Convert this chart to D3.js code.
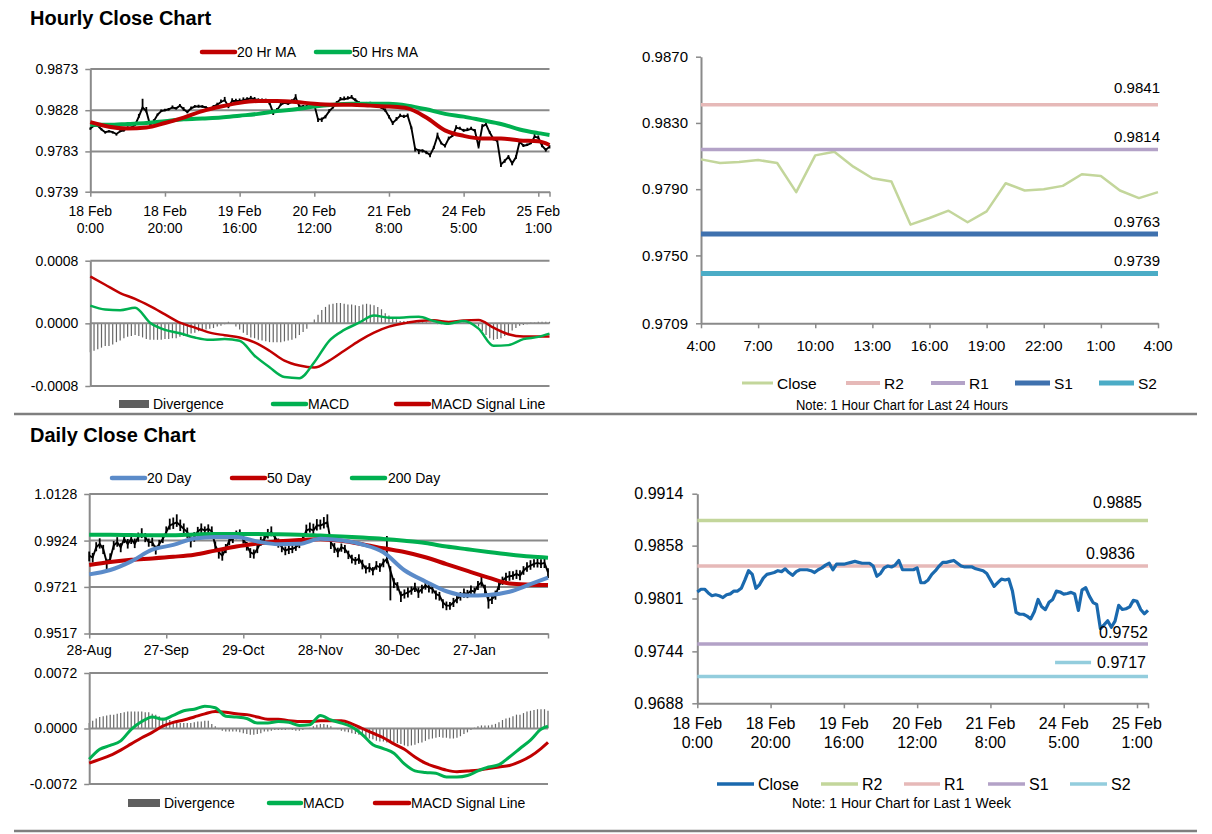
<!DOCTYPE html>
<html lang="en">
<head>
<meta charset="UTF-8">
<title>Hourly and Daily Close Charts</title>
<script src="https://d3js.org/d3.v7.min.js"></script>
<style>
  body { margin: 0; background: #fff; }
  text { font-family: "Liberation Sans", Arial, sans-serif; fill: #000; }
</style>
</head>
<body>
<svg id="chart" width="1212" height="834"></svg>
<script>
// ---------- Hourly data: 18 Feb 0:00 to 25 Feb 4:00, one point per trading hour ----------
const hourlyClose = [
  0.9808, 0.9811, 0.9811, 0.9807, 0.9804, 0.9805, 0.9804, 0.9802, 0.9805, 0.9806,
  0.9809, 0.9809, 0.9812, 0.9821, 0.9831, 0.9827, 0.9812, 0.9816, 0.9823, 0.9827,
  0.9828, 0.9829, 0.9831, 0.9830, 0.9833, 0.9829, 0.9826, 0.9830, 0.9832, 0.9832,
  0.9832, 0.9831, 0.9829, 0.9832, 0.9834, 0.9837, 0.9839, 0.9832, 0.9838, 0.9838,
  0.9838, 0.9839, 0.9840, 0.9841, 0.9840, 0.9839, 0.9839, 0.9839, 0.9836, 0.9825,
  0.9828, 0.9834, 0.9836, 0.9835, 0.9837, 0.9842, 0.9832, 0.9832, 0.9832, 0.9832,
  0.9834, 0.9818, 0.9818, 0.9821, 0.9827, 0.9831, 0.9836, 0.9840, 0.9840, 0.9841,
  0.9842, 0.9839, 0.9836, 0.9835, 0.9835, 0.9835, 0.9833, 0.9832, 0.9831, 0.9828,
  0.9821, 0.9814, 0.9818, 0.9822, 0.9821, 0.9822, 0.9809, 0.9786, 0.9784, 0.9784,
  0.9782, 0.9779, 0.9787, 0.9800, 0.9792, 0.9789, 0.9797, 0.9800, 0.9809,
  0.98080, 0.98058, 0.98064, 0.98076, 0.98058, 0.97882, 0.98104, 0.98126, 0.98036, 0.97966,
  0.97946, 0.97686, 0.97726, 0.97770, 0.97700, 0.97766, 0.97936, 0.97892, 0.97900, 0.97920,
  0.97990, 0.97980, 0.97892, 0.97846, 0.97882
];
// high above close and low below close, in 0.00001
const hourlyUp = [
  10, 12, 8, 14, 10, 12, 8, 10, 12, 9,
  14, 10, 18, 30, 95, 45, 20, 22, 15, 18,
  16, 14, 22, 15, 18, 24, 14, 20, 16, 20,
  15, 14, 20, 16, 22, 26, 35, 22, 30, 26,
  28, 30, 22, 26, 24, 20, 18, 16, 22, 25,
  24, 18, 20, 16, 30, 35, 22, 18, 16, 20,
  26, 14, 20, 18, 22, 24, 20, 24, 30, 22,
  26, 20, 18, 16, 20, 22, 18, 16, 14, 20,
  18, 20, 25, 22, 20, 24, 14, 12, 14, 12,
  16, 18, 20, 35, 16, 18, 22, 20, 26, 20,
  18, 24, 22, 16, 28, 24, 20, 18, 16, 20,
  14, 18, 20, 16, 22, 26, 18, 16, 20, 30,
  24, 22, 18, 16
];
const hourlyDown = [
  14, 10, 12, 10, 16, 12, 15, 18, 10, 12,
  10, 12, 10, 12, 20, 15, 22, 14, 12, 10,
  12, 14, 10, 12, 10, 16, 14, 12, 10, 12,
  14, 12, 16, 12, 10, 12, 14, 18, 12, 10,
  12, 10, 14, 12, 10, 12, 14, 16, 20, 22,
  14, 12, 10, 12, 10, 14, 12, 14, 12, 12,
  24, 30, 28, 20, 14, 12, 10, 12, 10, 12,
  10, 14, 12, 12, 10, 14, 12, 14, 16, 18,
  20, 22, 14, 12, 14, 12, 18, 30, 40, 22,
  20, 24, 14, 12, 14, 16, 12, 12, 14, 12,
  14, 12, 10, 14, 20, 12, 10, 14, 16, 14,
  25, 20, 18, 22, 20, 12, 14, 12, 10, 12,
  14, 16, 18, 20
];
const hourTickIdx = [0, 20, 40, 60, 80, 100, 120];
const hourTickDay = ["18 Feb", "18 Feb", "19 Feb", "20 Feb", "21 Feb", "24 Feb", "25 Feb"];
const hourTickTime = ["0:00", "20:00", "16:00", "12:00", "8:00", "5:00", "1:00"];

const hourMaIdx = [0, 5, 10, 15, 20, 25, 30, 35, 40, 45, 50, 55, 60, 65, 70, 75, 80, 85, 90, 95, 100, 105, 110, 115, 120, 123];
const hourMa20 = [0.9815, 0.9810, 0.9808, 0.9809, 0.9814, 0.9820, 0.9827, 0.9832, 0.9836, 0.9838, 0.9838, 0.9837, 0.9835,
  0.9834, 0.9834, 0.9833, 0.9832, 0.9830, 0.9820, 0.9806, 0.9800, 0.9797, 0.9797, 0.9795, 0.9794, 0.9790];
const hourMa50 = [0.9812, 0.9812, 0.9813, 0.9814, 0.9816, 0.9818, 0.9819, 0.9820, 0.9822, 0.9824, 0.9827, 0.9829, 0.9832,
  0.9834, 0.9835, 0.9835, 0.9835, 0.9833, 0.9829, 0.9824, 0.9821, 0.9817, 0.9813, 0.9807, 0.9803, 0.9801];

const hourMacdIdx = [0, 4, 8, 12, 16, 20, 24, 28, 32, 36, 40, 44, 48, 52, 56, 60, 64, 68, 72, 76, 80, 84, 88, 92, 96, 100, 104, 108, 112, 116, 120, 123];
const hourMacd = [0.000227, 0.000177, 0.000168, 0.000198, 0.000008, -0.000084, -0.000126, -0.000181, -0.000211, -0.000200,
  -0.000223, -0.000413, -0.000560, -0.000686, -0.000700, -0.000497, -0.000223, -0.000084, 0.000008, 0.000100,
  0.000072, 0.000076, 0.000084, 0.000030, -0.000004, 0.000030, -0.000067, -0.000286, -0.000278, -0.000202,
  -0.000173, -0.000131];
const hourSignal = [0.000598, 0.000493, 0.000387, 0.000312, 0.000219, 0.000114, 0.000008, -0.000055, -0.000118, -0.000152,
  -0.000181, -0.000244, -0.000350, -0.000476, -0.000539, -0.000565, -0.000476, -0.000350, -0.000223, -0.000118,
  -0.000042, 0.000000, 0.000030, 0.000038, 0.000017, 0.000038, 0.000042, -0.000055, -0.000139, -0.000168,
  -0.000168, -0.000168];
// divergence per hour, in 0.00001
const hourDivergence = [
  -37, -35, -33, -31, -29, -29, -27, -24, -22, -19,
  -17, -16, -15, -16, -18, -20, -21, -21, -21, -21,
  -20, -20, -19, -19, -17, -16, -15, -13, -12, -10,
  -8, -8, -7, -6, -4, -3, -1, 2, 0, -4,
  -8, -12, -15, -18, -19, -21, -22, -23, -24, -24,
  -24, -24, -23, -22, -21, -19, -15, -11, -7, 0,
  5, 11, 17, 21, 24, 25, 26, 26, 25, 24,
  24, 23, 22, 24, 25, 24, 23, 21, 18, 13,
  10, 7, 5, 3, 3, 3, 3, 3, 3, 2,
  2, 1, 0, -1, -1, -1, 0, 0, 0, 1,
  1, 1, 1, -1, -4, -10, -15, -19, -21, -20,
  -19, -16, -13, -9, -6, -3, -2, -1, 1, 1,
  2, 2, 2, 2
];

// ---------- Last 24 hours (24 Feb 4:00 to 25 Feb 4:00) ----------
const last24Start = 99;
const last24Ticks = ["4:00", "7:00", "10:00", "13:00", "16:00", "19:00", "22:00", "1:00", "4:00"];
const last24YTicks = [0.9870, 0.9830, 0.9790, 0.9750, 0.9709];
const last24LevelNames = ["R2", "R1", "S1", "S2"];
const last24Levels = [0.9841, 0.9814, 0.9763, 0.9739];

// ---------- Last week ----------
const weekYTicks = [0.9914, 0.9858, 0.9801, 0.9744, 0.9688];
const weekLevelNames = ["R2", "R1", "S1", "S2"];
const weekLevels = [0.9885, 0.9836, 0.9752, 0.9717];

// ---------- Daily data: 28 Aug to 25 Feb ----------
const dailyClose = [
  0.9858, 0.9850, 0.9895, 0.9909, 0.9887, 0.9829, 0.9844, 0.9902, 0.9917, 0.9895,
  0.9931, 0.9909, 0.9931, 0.9909, 0.9939, 0.9953, 0.9939, 0.9917, 0.9917, 0.9887,
  0.9909, 0.9931, 0.9961, 0.9990, 0.9997, 1.0004, 0.9990, 0.9975, 0.9961, 0.9924,
  0.9939, 0.9964, 0.9975, 0.9968, 0.9975, 0.9964, 0.9902, 0.9873, 0.9858, 0.9887,
  0.9924, 0.9931, 0.9946, 0.9953, 0.9931, 0.9902, 0.9873, 0.9865, 0.9887, 0.9917,
  0.9931, 0.9953, 0.9961, 0.9939, 0.9917, 0.9895, 0.9880, 0.9887, 0.9887, 0.9895,
  0.9909, 0.9931, 0.9968, 0.9975, 0.9968, 0.9990, 0.9990, 0.9997, 1.0004, 0.9917,
  0.9895, 0.9873, 0.9895, 0.9887, 0.9865, 0.9844, 0.9836, 0.9844, 0.9822, 0.9800,
  0.9807, 0.9792, 0.9814, 0.9807, 0.9829, 0.9844, 0.9792, 0.9741, 0.9727, 0.9683,
  0.9690, 0.9697, 0.9705, 0.9719, 0.9697, 0.9712, 0.9727, 0.9719, 0.9712, 0.9690,
  0.9683, 0.9653, 0.9639, 0.9639, 0.9653, 0.9668, 0.9683, 0.9694, 0.9690, 0.9705,
  0.9700, 0.9727, 0.9741, 0.9712, 0.9661, 0.9668, 0.9683, 0.9727, 0.9748, 0.9763,
  0.9768, 0.9770, 0.9778, 0.9770, 0.9792, 0.9807, 0.9814, 0.9822, 0.9826, 0.9822,
  0.9826, 0.9785
];
// high above close and low below close, in pips (0.0001)
const dailyUp = [
  18, 20, 22, 25, 18, 15, 24, 20, 22, 18,
  20, 22, 18, 24, 20, 25, 18, 16, 20, 15,
  18, 22, 25, 30, 28, 35, 26, 24, 20, 18,
  22, 20, 24, 18, 20, 22, 18, 15, 20, 22,
  18, 20, 22, 20, 18, 16, 18, 20, 22, 24,
  20, 22, 25, 18, 16, 14, 18, 16, 20, 22,
  24, 22, 26, 28, 30, 28, 26, 30, 35, 20,
  18, 20, 16, 18, 15, 18, 16, 20, 18, 15,
  18, 16, 20, 18, 16, 100, 20, 18, 15, 18,
  20, 22, 18, 20, 22, 18, 16, 20, 18, 15,
  16, 14, 18, 16, 20, 18, 16, 20, 18, 22,
  18, 20, 35, 18, 16, 20, 22, 20, 18, 20,
  22, 20, 18, 24, 20, 22, 24, 20, 22, 20,
  25, 18
];
const dailyDown = [
  25, 22, 18, 20, 22, 30, 20, 18, 20, 22,
  18, 20, 22, 18, 20, 18, 22, 20, 18, 24,
  20, 18, 20, 18, 22, 20, 24, 22, 25, 30,
  20, 22, 18, 20, 22, 20, 25, 28, 22, 18,
  20, 18, 16, 18, 20, 22, 25, 20, 18, 16,
  18, 20, 18, 22, 24, 22, 20, 22, 18, 16,
  18, 20, 18, 16, 20, 22, 18, 20, 22, 30,
  25, 22, 20, 18, 22, 20, 18, 22, 24, 20,
  22, 20, 18, 20, 22, 20, 130, 25, 22, 28,
  20, 22, 18, 20, 24, 20, 18, 22, 20, 24,
  22, 25, 20, 18, 20, 18, 22, 20, 18, 20,
  18, 20, 18, 30, 35, 22, 18, 20, 18, 22,
  20, 18, 22, 20, 18, 20, 18, 16, 20, 18,
  22, 25
];
const dayTickIdx = [0, 22, 44, 66, 88, 110];
const dayTickLabels = ["28-Aug", "27-Sep", "29-Oct", "28-Nov", "30-Dec", "27-Jan"];

const dayMaIdx = [0, 6, 12, 18, 24, 30, 36, 42, 48, 54, 60, 66, 72, 78, 84, 90, 96, 102, 108, 114, 120, 126, 131];
const dayMa20 = [0.9776, 0.9795, 0.9833, 0.9884, 0.9905, 0.9933, 0.9940, 0.9940, 0.9920, 0.9908, 0.9910, 0.9932,
  0.9925, 0.9907, 0.9873, 0.9794, 0.9745, 0.9702, 0.9683, 0.9686, 0.9700, 0.9733, 0.9762];
const dayMa50 = [0.9817, 0.9830, 0.9840, 0.9846, 0.9853, 0.9862, 0.9880, 0.9898, 0.9911, 0.9921, 0.9927, 0.9930,
  0.9923, 0.9908, 0.9890, 0.9874, 0.9851, 0.9821, 0.9791, 0.9762, 0.9736, 0.9731, 0.9729];
const dayMa200 = [0.9949, 0.9949, 0.9948, 0.9947, 0.9947, 0.9951, 0.9953, 0.9953, 0.9953, 0.9952, 0.9950, 0.9946,
  0.9942, 0.9937, 0.9931, 0.9923, 0.9913, 0.9898, 0.9886, 0.9874, 0.9863, 0.9854, 0.9849];

const dayMacdIdx = [0, 3, 6, 9, 12, 15, 18, 21, 24, 27, 30, 33, 36, 39, 42, 45, 48, 51, 54, 57, 60, 63, 66, 69, 72,
  75, 78, 81, 84, 87, 90, 93, 96, 99, 102, 105, 108, 111, 114, 117, 120, 123, 126, 129, 131];
const dayMacd = [-0.0040, -0.0027, -0.0022, -0.0016, -0.0001, 0.0009, 0.0015, 0.0012, 0.0017, 0.0023,
  0.0025, 0.0029, 0.0027, 0.0016, 0.0015, 0.0013, 0.0007, 0.0007, 0.0009, 0.0008,
  0.0004, 0.0005, 0.0017, 0.0011, 0.0007, 0.0002, -0.0008, -0.0021, -0.0026, -0.0032,
  -0.0046, -0.0055, -0.0057, -0.0058, -0.0063, -0.0063, -0.0061, -0.0055, -0.0050, -0.0047,
  -0.0037, -0.0026, -0.0015, -0.0001, 0.0003];
const daySignal = [-0.0045, -0.0040, -0.0035, -0.0028, -0.0020, -0.0012, -0.0005, 0.0003, 0.0008, 0.0011,
  0.0015, 0.0019, 0.0022, 0.0021, 0.0019, 0.0018, 0.0015, 0.0012, 0.0012, 0.0010,
  0.0009, 0.0009, 0.0010, 0.0010, 0.0010, 0.0006, 0.0000, -0.0006, -0.0012, -0.0020,
  -0.0027, -0.0037, -0.0045, -0.0050, -0.0054, -0.0056, -0.0055, -0.0054, -0.0052, -0.0050,
  -0.0048, -0.0043, -0.0036, -0.0026, -0.0018];
// divergence per day, in 0.0001
const dayDivergence = [
  7, 10, 13, 15, 16, 17, 18, 18, 19, 20,
  21, 22, 22, 22, 22, 22, 21, 21, 19, 18,
  16, 14, 12, 11, 9, 8, 7, 7, 7, 7,
  8, 9, 9, 10, 10, 6, 3, -1, -3, -4,
  -4, -4, -4, -5, -6, -7, -8, -8, -7, -6,
  -4, -4, -3, -2, -2, -2, -2, -1, -2, -3,
  -3, -2, 0, 1, 3, 5, 6, 6, 5, 3,
  0, -1, -3, -4, -5, -6, -7, -8, -10, -11,
  -13, -14, -16, -17, -17, -18, -18, -18, -19, -20,
  -22, -23, -22, -21, -19, -18, -16, -14, -13, -12,
  -11, -12, -12, -13, -13, -12, -10, -7, -5, -2,
  1, 3, 4, 4, 4, 5, 6, 8, 11, 13,
  14, 16, 18, 18, 20, 22, 23, 24, 25, 25,
  25, 23
];

// ---------- Styles ----------
const GRID = "#8a8a8a";
const RED = "#c00000";
const GREEN = "#00b050";
const BLUE20 = "#5b8bc9";
const BAR_GRAY = "#666666";
const last24Colors = { Close: "#c3d69b", R2: "#e6b9b8", R1: "#b3a2c7", S1: "#3f71ae", S2: "#4bacc6" };
const last24Widths = { Close: 2.5, R2: 3.5, R1: 3.5, S1: 5, S2: 5 };
const weekColors = { Close: "#1a69ae", R2: "#c3d69b", R1: "#e6b9b8", S1: "#b3a2c7", S2: "#93cddd" };

const svg = d3.select("#chart");

// ---------- Helpers ----------
function addText(x, y, str, size, anchor, bold) {
  return svg.append("text")
    .attr("x", x).attr("y", y)
    .attr("font-size", size)
    .attr("font-weight", bold ? "bold" : null)
    .attr("text-anchor", anchor || "start")
    .attr("dominant-baseline", "central")
    .text(str);
}

function addLine(x1, y1, x2, y2, color, width) {
  return svg.append("line")
    .attr("x1", x1).attr("y1", y1).attr("x2", x2).attr("y2", y2)
    .attr("stroke", color).attr("stroke-width", width);
}

function styleAxis(g, size) {
  g.select(".domain").attr("stroke", GRID).attr("stroke-width", 2);
  g.selectAll(".tick line").attr("stroke", GRID).attr("stroke-width", 1.5);
  g.selectAll(".tick text").attr("font-size", size).attr("fill", "#000")
    .attr("font-family", '"Liberation Sans", Arial, sans-serif');
}

function drawYAxis(y, xPos, ticks, size, pad) {
  const g = svg.append("g").attr("transform", `translate(${xPos},0)`)
    .call(d3.axisLeft(y).tickValues(ticks).tickSize(5).tickSizeOuter(0)
      .tickPadding(pad).tickFormat(d => d.toFixed(4)));
  styleAxis(g, size);
}

function drawXAxis(x, yPos, ticks, tickLen) {
  const g = svg.append("g").attr("transform", `translate(0,${yPos})`)
    .call(d3.axisBottom(x).tickValues(ticks).tickSize(tickLen).tickSizeOuter(0).tickFormat(""));
  styleAxis(g, 12);
}

function drawGrid(x, y, values) {
  values.forEach(v => addLine(x.range()[0], y(v), x.range()[1], y(v), GRID, 2));
}

function drawSeries(x, y, idx, vals, color, width) {
  const line = d3.line().x(d => x(d[0])).y(d => y(d[1])).curve(d3.curveMonotoneX);
  svg.append("path")
    .datum(idx.map((d, i) => [d, vals[i]]))
    .attr("fill", "none").attr("stroke", color).attr("stroke-width", width)
    .attr("stroke-linejoin", "round")
    .attr("d", line);
}

function drawPriceBars(x, y, close, up, down, unit) {
  svg.append("g").selectAll("line").data(close).join("line")
    .attr("x1", (d, i) => x(i)).attr("x2", (d, i) => x(i))
    .attr("y1", (d, i) => y(d + (up[i] || 0) * unit))
    .attr("y2", (d, i) => y(d - (down[i] || 0) * unit))
    .attr("stroke", "#000").attr("stroke-width", 1.8);
  svg.append("path")
    .datum(close)
    .attr("fill", "none").attr("stroke", "#000").attr("stroke-width", 1.9)
    .attr("d", d3.line().x((d, i) => x(i)).y(d => y(d)));
}

function drawDivergence(x, y, vals, unit) {
  svg.append("g").selectAll("line").data(vals).join("line")
    .attr("x1", (d, i) => x(i)).attr("x2", (d, i) => x(i))
    .attr("y1", y(0)).attr("y2", d => y(d * unit))
    .attr("stroke", BAR_GRAY).attr("stroke-width", 1.2);
}

function legendLine(x1, x2, y, color, width) {
  addLine(x1, y, x2, y, color, width).attr("stroke-linecap", "round");
}

function macdLegend(y, x) {
  svg.append("rect").attr("x", x[0]).attr("y", y - 4).attr("width", x[1] - x[0]).attr("height", 8)
    .attr("fill", "#5f5f5f");
  addText(x[1] + 4, y, "Divergence", 14);
  legendLine(x[2], x[3], y, GREEN, 4.5);
  addText(x[3] + 2, y, "MACD", 14);
  legendLine(x[4], x[5], y, RED, 4.5);
  addText(x[5] + 2, y, "MACD Signal Line", 14);
}

// ---------- Titles and separators ----------
addText(30, 18, "Hourly Close Chart", 20, "start", true);
addText(30, 435, "Daily Close Chart", 20, "start", true);
addLine(14, 414, 1197, 414, "#7f7f7f", 2.5);
addLine(14, 831, 1197, 831, "#7f7f7f", 2.5);

// ---------- Hourly price panel ----------
const xHour = d3.scaleLinear().domain([0, hourlyClose.length - 1]).range([90.3, 549.5]);
const yHour = d3.scaleLinear().domain([0.9739, 0.9873]).range([191.7, 69]);
drawGrid(xHour, yHour, [0.9873, 0.9828, 0.9783]);
drawXAxis(xHour, yHour(0.9739), hourTickIdx.concat([hourlyClose.length - 1]), 5);
drawYAxis(yHour, 90.3, [0.9873, 0.9828, 0.9783, 0.9739], 14, 7);
drawPriceBars(xHour, yHour, hourlyClose, hourlyUp, hourlyDown, 1e-5);
drawSeries(xHour, yHour, hourMaIdx, hourMa50, GREEN, 4);
drawSeries(xHour, yHour, hourMaIdx, hourMa20, RED, 4);
hourTickIdx.forEach((d, i) => {
  addText(xHour(d), 210.7, hourTickDay[i], 14, "middle");
  addText(xHour(d), 227.7, hourTickTime[i], 14, "middle");
});
legendLine(202, 235, 52, RED, 4.5);
addText(237, 52, "20 Hr MA", 14);
legendLine(316, 350, 52, GREEN, 4.5);
addText(352, 52, "50 Hrs MA", 14);

// ---------- Hourly MACD panel ----------
const yHourMacd = d3.scaleLinear().domain([-0.0008, 0.0008]).range([386, 260.7]);
drawDivergence(xHour, yHourMacd, hourDivergence, 1e-5);
drawGrid(xHour, yHourMacd, [0.0008, 0, -0.0008]);
drawYAxis(yHourMacd, 90.3, [0.0008, 0, -0.0008], 14, 7);
drawSeries(xHour, yHourMacd, hourMacdIdx, hourSignal, RED, 2.5);
drawSeries(xHour, yHourMacd, hourMacdIdx, hourMacd, GREEN, 2.5);
macdLegend(404, [119, 149, 273, 306, 396, 429]);

// ---------- Last 24 hours panel ----------
const last24Close = hourlyClose.slice(last24Start);
const x24 = d3.scaleLinear().domain([0, last24Close.length - 1]).range([701, 1158]);
const y24 = d3.scaleLinear().domain([0.9709, 0.9870]).range([323.3, 56.7]);
const last24TickIdx = last24Ticks.map((d, i) => i * 3);
drawYAxis(y24, 701, last24YTicks, 15, 8);
drawXAxis(x24, y24(0.9709), last24TickIdx, 5);
last24TickIdx.forEach((d, i) => addText(x24(d), 345, last24Ticks[i], 15, "middle"));
svg.append("path")
  .datum(last24Close)
  .attr("fill", "none").attr("stroke", last24Colors.Close).attr("stroke-width", last24Widths.Close)
  .attr("stroke-linejoin", "round")
  .attr("d", d3.line().x((d, i) => x24(i)).y(d => y24(d)));
const last24LabelDy = [-17, -12.5, -12, -13];
last24Levels.forEach((v, i) => {
  const name = last24LevelNames[i];
  addLine(x24(0), y24(v), x24(24), y24(v), last24Colors[name], last24Widths[name]);
  addText(x24(24) + 2, y24(v) + last24LabelDy[i], v.toFixed(4), 15, "end");
});
// legend
const last24LegendX = [[742, 773], [846, 880], [931, 965], [1015, 1050], [1099, 1134]];
["Close"].concat(last24LevelNames).forEach((name, i) => {
  const [a, b] = last24LegendX[i];
  addLine(a, 383, b, 383, last24Colors[name], Math.min(last24Widths[name] + 0.5, 5));
  addText(b + 4, 383, name, 15.5);
});
addText(902, 405, "Note: 1 Hour Chart for Last 24 Hours", 14, "middle")
  .attr("font-family", '"Liberation Sans Narrow", "Arial Narrow", sans-serif')
  .attr("textLength", 212).attr("lengthAdjust", "spacingAndGlyphs");

// ---------- Last week panel ----------
const xWeek = d3.scaleLinear().domain([0, hourlyClose.length - 1]).range([697.3, 1148]);
const yWeek = d3.scaleLinear().domain([0.9688, 0.9914]).range([703.3, 493.7]);
drawYAxis(yWeek, 697.3, weekYTicks, 16, 9);
drawXAxis(xWeek, yWeek(0.9688), hourTickIdx.concat([hourlyClose.length - 1]), 5);
hourTickIdx.forEach((d, i) => {
  addText(xWeek(d), 723.3, hourTickDay[i], 16, "middle");
  addText(xWeek(d), 742.7, hourTickTime[i], 16, "middle");
});
weekLevels.forEach((v, i) => {
  addLine(xWeek(0), yWeek(v), xWeek(hourlyClose.length - 1), yWeek(v), weekColors[weekLevelNames[i]], 3.5);
});
svg.append("path")
  .datum(hourlyClose)
  .attr("fill", "none").attr("stroke", weekColors.Close).attr("stroke-width", 3.2)
  .attr("stroke-linejoin", "round")
  .attr("d", d3.line().x((d, i) => xWeek(i)).y(d => yWeek(d)));
const weekLabelDx = [-6, -13, 0, -2];
const weekLabelDy = [-18, -13, -11, -14];
weekLevels.forEach((v, i) => {
  const xr = xWeek(hourlyClose.length - 1) + weekLabelDx[i];
  const lbl = addText(xr, yWeek(v) + weekLabelDy[i], v.toFixed(4), 16, "end");
  if (weekLevelNames[i] === "S2") {
    const w = lbl.node().getComputedTextLength();
    addLine(xr - w - 42, yWeek(v) + weekLabelDy[i], xr - w - 6, yWeek(v) + weekLabelDy[i], weekColors.S2, 3.5);
  }
});
const weekLegendX = [[717, 754], [821, 858], [904, 940], [988, 1025], [1070, 1107]];
["Close"].concat(weekLevelNames).forEach((name, i) => {
  const [a, b] = weekLegendX[i];
  addLine(a, 784, b, 784, weekColors[name], 3.5);
  addText(b + 4, 784, name, 16);
});
addText(901.5, 803, "Note: 1 Hour Chart for Last 1 Week", 14, "middle")
  .attr("font-family", '"Liberation Sans Narrow", "Arial Narrow", sans-serif')
  .attr("textLength", 219).attr("lengthAdjust", "spacingAndGlyphs");

// ---------- Daily price panel ----------
const xDay = d3.scaleLinear().domain([0, dailyClose.length - 1]).range([89.2, 548]);
const yDay = d3.scaleLinear().domain([0.9517, 1.0128]).range([633.5, 494]);
drawGrid(xDay, yDay, [1.0128, 0.9924, 0.9721]);
drawXAxis(xDay, yDay(0.9517), dayTickIdx.concat([dailyClose.length - 1]), 5);
drawYAxis(yDay, 89.2, [1.0128, 0.9924, 0.9721, 0.9517], 14, 7);
drawPriceBars(xDay, yDay, dailyClose, dailyUp, dailyDown, 1e-4);
drawSeries(xDay, yDay, dayMaIdx, dayMa200, GREEN, 4);
drawSeries(xDay, yDay, dayMaIdx, dayMa50, RED, 4);
drawSeries(xDay, yDay, dayMaIdx, dayMa20, BLUE20, 4);
dayTickIdx.forEach((d, i) => addText(xDay(d), 650, dayTickLabels[i], 14, "middle"));
legendLine(112, 145, 478, BLUE20, 4.5);
addText(147, 478, "20 Day", 14);
legendLine(232, 265, 478, RED, 4.5);
addText(267, 478, "50 Day", 14);
legendLine(352, 385, 478, GREEN, 4.5);
addText(388, 478, "200 Day", 14);

// ---------- Daily MACD panel ----------
const yDayMacd = d3.scaleLinear().domain([-0.0072, 0.0072]).range([784, 673]);
drawDivergence(xDay, yDayMacd, dayDivergence, 1e-4);
drawGrid(xDay, yDayMacd, [0.0072, 0, -0.0072]);
drawYAxis(yDayMacd, 89.2, [0.0072, 0, -0.0072], 14, 7);
drawSeries(xDay, yDayMacd, dayMacdIdx, daySignal, RED, 3);
drawSeries(xDay, yDayMacd, dayMacdIdx, dayMacd, GREEN, 3);
macdLegend(803, [128, 160, 269, 301, 375, 409]);
</script>
</body>
</html>
